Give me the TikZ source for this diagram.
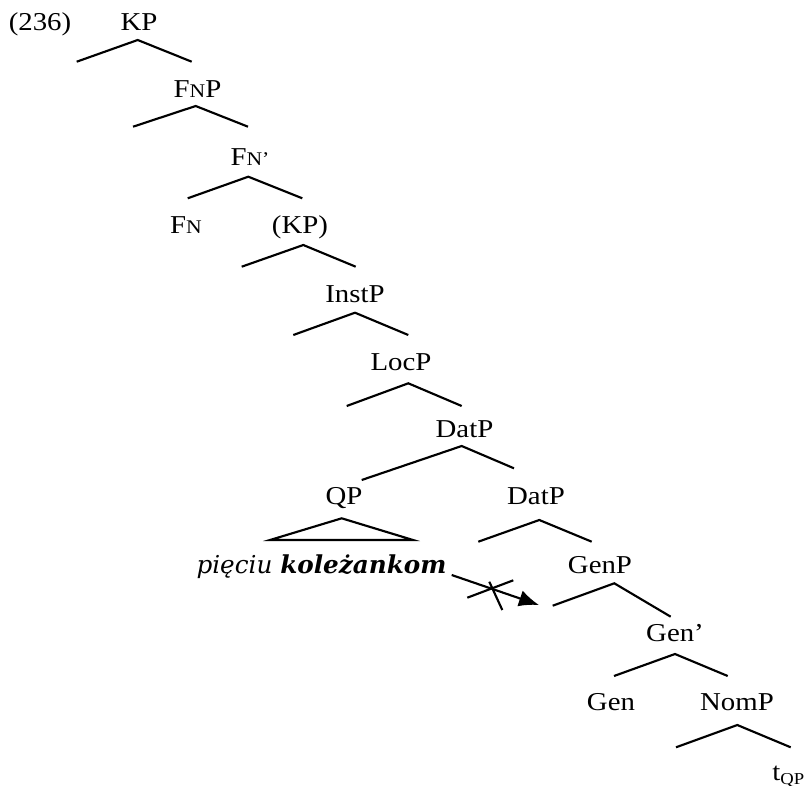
\documentclass[tikz,border=0pt]{standalone}
\usepackage{fontspec}
\setmainfont[FakeStretch=1.12]{Liberation Serif}
\newfontfamily\polfont{DejaVu Serif}
\usetikzlibrary{arrows.meta}
\newcommand\mysc[1]{{\fontsize{14.5}{17}\selectfont #1}}
\begin{document}
\begin{tikzpicture}[x=0.75pt,y=-0.75pt,
  lbl/.style={anchor=base, inner sep=0pt, font=\fontsize{19.3}{23}\selectfont},
  br/.style={line width=1.6pt, line join=miter},
  pol/.style={anchor=base, inner sep=0pt, font=\polfont\itshape\fontsize{18.5}{22}\selectfont}]
\useasboundingbox (0,0) rectangle (804,786);

% labels
\node[lbl] (ex) at (40,30) {(236)};
\node[lbl] (kp) at (139,30) {KP};
\node[lbl] (fnp) at (197.5,97) {F\mysc{N}P};
\node[lbl] (fnbar) at (250,165) {F\mysc{N’}};
\node[lbl] (fn) at (186,233) {F\mysc{N}};
\node[lbl] (kp2) at (300,233) {(KP)};
\node[lbl] (inst) at (355,302) {InstP};
\node[lbl] (loc) at (401,370) {LocP};
\node[lbl] (dat) at (464.5,437) {DatP};
\node[lbl] (qp) at (344,504) {QP};
\node[lbl] (dat2) at (536,504) {DatP};
\node[pol] (pk) at (321.5,573) {pięciu \textbf{koleżankom}};
\node[lbl] (gen) at (600,573) {GenP};
\node[lbl] (genbar) at (675,641) {Gen’};
\node[lbl] (g) at (611,710) {Gen};
\node[lbl] (nom) at (737,710) {NomP};
\node[lbl, anchor=base west] (t) at (772,780) {t\raisebox{-3pt}{\fontsize{12.5}{14}\selectfont QP}};

% branch coordinates
\coordinate (kp-a) at (137.7,40);   \coordinate (kp-l) at (76.7,61.7);   \coordinate (kp-r) at (191.7,61.7);
\coordinate (fnp-a) at (195.7,106); \coordinate (fnp-l) at (133,126.7);  \coordinate (fnp-r) at (248,126.7);
\coordinate (fnb-a) at (248.3,176.7); \coordinate (fnb-l) at (187.7,198.3); \coordinate (fnb-r) at (302.3,198.3);
\coordinate (kp2-a) at (303.3,245); \coordinate (kp2-l) at (241.7,266.7); \coordinate (kp2-r) at (355.7,266.7);
\coordinate (inst-a) at (355,312.7); \coordinate (inst-l) at (293.3,335); \coordinate (inst-r) at (408.3,335);
\coordinate (loc-a) at (408.3,383.3); \coordinate (loc-l) at (346.7,406); \coordinate (loc-r) at (461.7,406);
\coordinate (dat-a) at (461.7,446); \coordinate (dat-l) at (361.7,480); \coordinate (dat-r) at (514,468.3);
\coordinate (qp-a) at (341.7,518.3); \coordinate (qp-l) at (270,540); \coordinate (qp-r) at (413,540);
\coordinate (dat2-a) at (539.3,520); \coordinate (dat2-l) at (478.3,541.7); \coordinate (dat2-r) at (591.7,541.7);
\coordinate (gen-a) at (614.3,583.3); \coordinate (gen-l) at (552.7,605.7); \coordinate (gen-r) at (670.7,616.7);
\coordinate (genb-a) at (675,654); \coordinate (genb-l) at (614,676); \coordinate (genb-r) at (727.7,676);
\coordinate (nom-a) at (737.3,725); \coordinate (nom-l) at (676,747.3); \coordinate (nom-r) at (790.7,747.3);

% branches
\draw[br] (kp-l) -- (kp-a) -- (kp-r);
\draw[br] (fnp-l) -- (fnp-a) -- (fnp-r);
\draw[br] (fnb-l) -- (fnb-a) -- (fnb-r);
\draw[br] (kp2-l) -- (kp2-a) -- (kp2-r);
\draw[br] (inst-l) -- (inst-a) -- (inst-r);
\draw[br] (loc-l) -- (loc-a) -- (loc-r);
\draw[br] (dat-l) -- (dat-a) -- (dat-r);
\draw[br] (qp-l) -- (qp-a) -- (qp-r) -- cycle;
\draw[br] (dat2-l) -- (dat2-a) -- (dat2-r);
\draw[br] (gen-l) -- (gen-a) -- (gen-r);
\draw[br] (genb-l) -- (genb-a) -- (genb-r);
\draw[br] (nom-l) -- (nom-a) -- (nom-r);

% movement arrow with cross
\coordinate (arr-s) at (451.7,575);
\coordinate (arr-e) at (539,605);
\draw[br, -{Latex[length=15pt,width=12.5pt]}] (arr-s) -- (arr-e);
\coordinate (x1a) at (467.3,597.7); \coordinate (x1b) at (513.3,580.3);
\coordinate (x2a) at (489.3,581.7); \coordinate (x2b) at (502.3,610);
\draw[br] (x1a) -- (x1b);
\draw[br] (x2a) -- (x2b);
\end{tikzpicture}
\end{document}
